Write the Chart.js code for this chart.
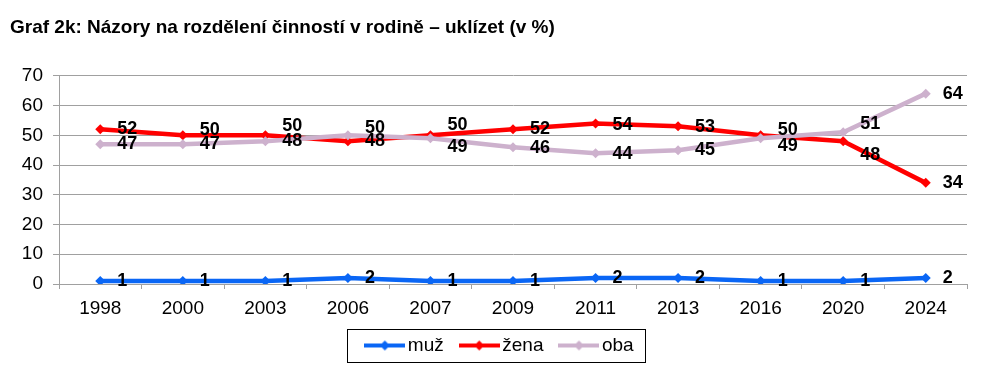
<!DOCTYPE html>
<html><head><meta charset="utf-8">
<script src="https://cdn.jsdelivr.net/npm/chart.js@4"></script>
<style>html,body{margin:0;padding:0;background:#fff}</style>
</head><body>
<canvas id="c" width="990" height="378"></canvas>
<script>
const categories = ['1998','2000','2003','2006','2007','2009','2011','2013','2016','2020','2024'];
const muz = [1,1,1,2,1,1,2,2,1,1,2];
const zena = [52,50,50,48,50,52,54,53,50,48,34];
const oba = [47,47,48,50,49,46,44,45,49,51,64];
const yTicks = [0,10,20,30,40,50,60,70];
const seriesNames = ['muž','žena','oba'];
const titleText = 'Graf 2k: Názory na rozdělení činností v rodině – uklízet (v %)';
// vertical nudges of the value labels (px), per series
const labelNudge = [
  [0,0,0,0,0,0,0,0,0,0,0],
  [0,-5,-9,0,-10,0,2,1,-5,14,0],
  [0,0,0,-7,9,1,1,0,8,-8,0]
];
const FONT = '"Liberation Sans", Arial, sans-serif';
const colors = ['#0A66F5', '#FF0000', '#CDB1CD'];
const GRID = '#A0A0A0';

function sample(color){
  const c = document.createElement('canvas'); c.width = 41; c.height = 12;
  const g = c.getContext('2d');
  g.strokeStyle = color; g.lineWidth = 4;
  g.beginPath(); g.moveTo(0,6); g.lineTo(41,6); g.stroke();
  g.fillStyle = color;
  g.beginPath(); g.moveTo(20.5,1); g.lineTo(25.5,6); g.lineTo(20.5,11); g.lineTo(15.5,6); g.closePath(); g.fill();
  return c;
}
const samples = colors.map(sample);

const labelPlugin = {
  id: 'vals',
  afterDatasetsDraw(chart){
    const ctx = chart.ctx; ctx.save();
    ctx.font = 'bold 18px ' + FONT; ctx.fillStyle = '#000';
    ctx.textAlign = 'left'; ctx.textBaseline = 'middle';
    chart.data.datasets.forEach((ds, i) => {
      const meta = chart.getDatasetMeta(i);
      meta.data.forEach((pt, j) => {
        ctx.fillText(String(ds.data[j]), pt.x + 17, pt.y + labelNudge[i][j]);
      });
    });
    ctx.restore();
  }
};
const legendBox = {
  id: 'lbox',
  afterLayout(chart){
    const L = chart.legend;
    if (L) { L.left += 14; L.right += 14; }
  },
  afterDraw(chart){
    const hb = chart.legend && chart.legend.legendHitBoxes;
    if (!hb || !hb.length) return;
    const ctx = chart.ctx;
    const first = hb[0], last = hb[hb.length-1];
    const cy = first.top + first.height/2;
    const x0 = Math.round(first.left - 24) + 0.5;
    const x1 = Math.round(last.left + last.width + 11) + 0.5;
    const y0 = Math.round(cy - 16.5) + 0.5;
    ctx.save(); ctx.strokeStyle = '#000'; ctx.lineWidth = 1;
    ctx.strokeRect(x0, y0, x1 - x0, 33);
    ctx.restore();
  }
};

const datasets = [muz, zena, oba].map((d, i) => ({
  label: seriesNames[i], data: d,
  borderColor: colors[i], backgroundColor: colors[i],
  borderWidth: 4.5, tension: 0,
  pointStyle: 'rectRot', pointRadius: 5, pointBorderWidth: 0,
  pointBackgroundColor: colors[i],
  order: 2 - i
}));

new Chart(document.getElementById('c'), {
  type: 'line',
  data: { labels: categories, datasets },
  plugins: [labelPlugin, legendBox],
  options: {
    responsive: false, animation: false,
    layout: { padding: { left: 10, right: 23, top: 0, bottom: 13 } },
    plugins: {
      title: { display: true, text: titleText, align: 'start', color: '#000',
        font: { family: FONT, size: 19, weight: 'bold' }, padding: { top: 16, bottom: 37 } },
      legend: { position: 'bottom',
        labels: { usePointStyle: true, pointStyleWidth: 27, boxHeight: 12, padding: 22, color: '#000',
          font: { family: FONT, size: 19 },
          generateLabels(chart){
            return chart.data.datasets.map((ds, i) => ({
              text: ds.label, pointStyle: samples[i], datasetIndex: i, hidden: false,
              fontColor: '#000', lineWidth: 0, strokeStyle: 'rgba(0,0,0,0)', fillStyle: 'rgba(0,0,0,0)'
            }));
          }
        }
      },
      tooltip: { enabled: false }
    },
    scales: {
      x: { offset: true,
        grid: { offset: true, drawOnChartArea: false, drawTicks: true, tickLength: 5, color: GRID },
        border: { color: GRID },
        ticks: { color: '#000', font: { family: FONT, size: 19 }, padding: 8, maxRotation: 0, autoSkip: false },
        afterFit(s){ s.height = 30; } },
      y: { min: 0, max: 70,
        afterBuildTicks(s){ s.ticks = yTicks.map(v => ({ value: v })); },
        grid: { color: GRID, tickLength: 6 },
        border: { color: GRID },
        ticks: { color: '#000', font: { family: FONT, size: 19 }, padding: 10 },
        afterFit(s){ s.width = 49; } }
    }
  }
});
</script>
</body></html>
